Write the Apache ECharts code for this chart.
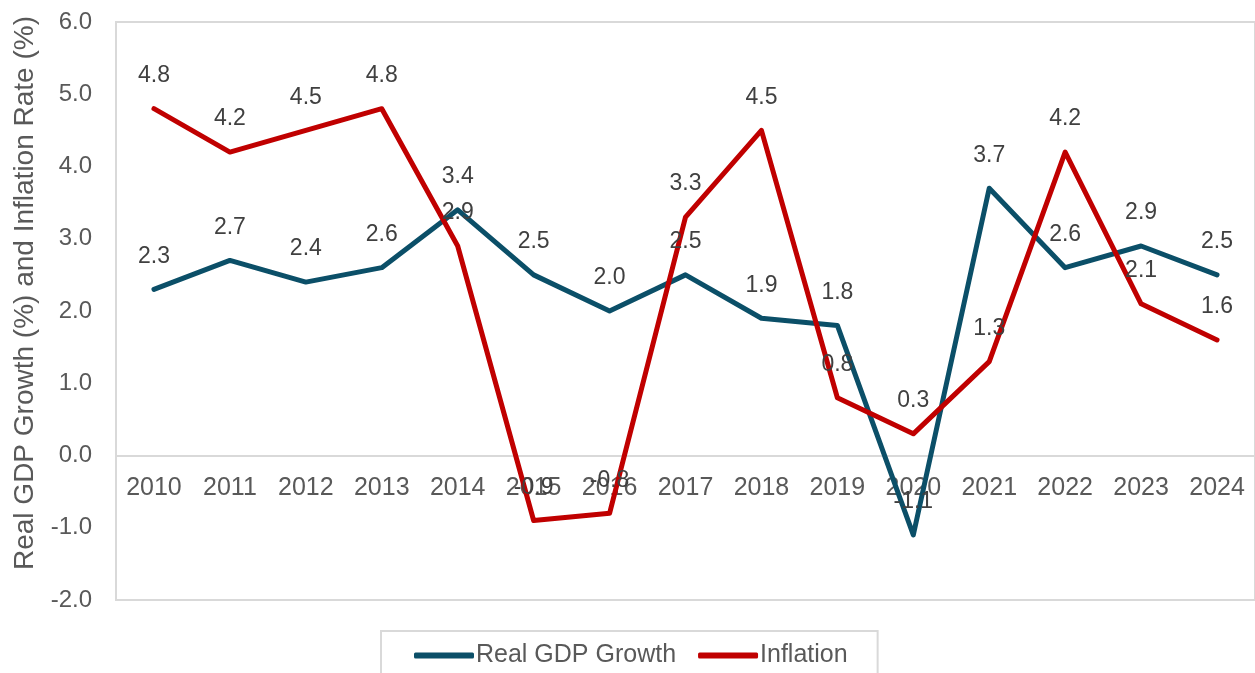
<!DOCTYPE html>
<html>
<head>
<meta charset="utf-8">
<title>Real GDP Growth and Inflation, 2010–2024</title>
<script src="https://cdn.jsdelivr.net/npm/echarts@6/dist/echarts.min.js"></script>
<style>
  html, body { margin: 0; padding: 0; background: #ffffff; }
  #chart { width: 1255px; height: 673px; }
</style>
</head>
<body>
<div id="chart"></div>
<script>
// Years on the category axis
const years = ['2010', '2011', '2012', '2013', '2014', '2015', '2016', '2017',
               '2018', '2019', '2020', '2021', '2022', '2023', '2024'];

// Annual real GDP growth, percent
const gdpGrowth = [2.3, 2.7, 2.4, 2.6, 3.4, 2.5, 2.0, 2.5, 1.9, 1.8, -1.1, 3.7, 2.6, 2.9, 2.5];

// Annual inflation rate, percent
const inflation = [4.8, 4.2, 4.5, 4.8, 2.9, -0.9, -0.8, 3.3, 4.5, 0.8, 0.3, 1.3, 4.2, 2.1, 1.6];

// Value axis range and step
const yMin = -2;
const yMax = 6;
const yStep = 1;

const FONT = '"Liberation Sans", Arial, sans-serif';
const AXIS_GREY = '#d9d9d9';
const TEXT_GREY = '#595959';

// Plot rectangle
const GRID = { left: 116, top: 22, right: -1, bottom: 73 };
const plotHeight = 673 - GRID.top - GRID.bottom;

// The category axis sits on the zero line; shift it up from the plot bottom
const zeroOffset = -plotHeight * (0 - yMin) / (yMax - yMin);

const chart = echarts.init(document.getElementById('chart'), null, { renderer: 'canvas' });

function lineSeries(name, data, color) {
  return {
    name: name,
    type: 'line',
    data: data,
    symbol: 'circle',
    symbolSize: 1,
    showSymbol: true,
    itemStyle: { color: color },
    lineStyle: { color: color, width: 5, join: 'round', cap: 'round' },
    label: {
      show: true,
      position: 'top',
      distance: 21,
      color: '#404040',
      fontFamily: FONT,
      fontSize: 23,
      formatter: p => p.value.toFixed(1)
    },
    emphasis: { disabled: true },
    animation: false
  };
}

chart.setOption({
  backgroundColor: '#ffffff',
  textStyle: { fontFamily: FONT },
  grid: Object.assign({
    show: true,
    borderColor: AXIS_GREY,
    borderWidth: 2,
    backgroundColor: 'transparent'
  }, GRID),
  legend: {
    left: 381,
    top: 631,
    padding: [12, 30, 30, 33],
    borderColor: AXIS_GREY,
    borderWidth: 2,
    itemGap: 22,
    itemWidth: 60,
    itemHeight: 6,
    icon: 'roundRect',
    textStyle: { color: TEXT_GREY, fontSize: 25, fontFamily: FONT, padding: [0, 0, 0, -3] },
    data: ['Real GDP Growth', 'Inflation']
  },
  xAxis: {
    type: 'category',
    data: years,
    boundaryGap: true,
    position: 'bottom',
    offset: zeroOffset,
    axisLine: { show: true, onZero: false, lineStyle: { color: AXIS_GREY, width: 2 } },
    axisTick: { show: false },
    axisLabel: { color: TEXT_GREY, fontSize: 25, margin: 20, fontFamily: FONT, interval: 0 },
    splitLine: { show: false }
  },
  yAxis: {
    type: 'value',
    min: yMin,
    max: yMax,
    interval: yStep,
    name: 'Real GDP Growth (%) and Inflation Rate (%)',
    nameLocation: 'middle',
    nameRotate: 90,
    nameGap: 68,
    nameTextStyle: { color: TEXT_GREY, fontSize: 28, fontFamily: FONT, padding: [0, 0, 0, 36] },
    axisLine: { show: false },
    axisTick: { show: false },
    axisLabel: { color: TEXT_GREY, fontSize: 24, margin: 24, fontFamily: FONT,
                 formatter: v => v.toFixed(1) },
    splitLine: { show: false }
  },
  series: [
    lineSeries('Real GDP Growth', gdpGrowth, '#0b4f68'),
    lineSeries('Inflation', inflation, '#c00000')
  ]
});
</script>
</body>
</html>
